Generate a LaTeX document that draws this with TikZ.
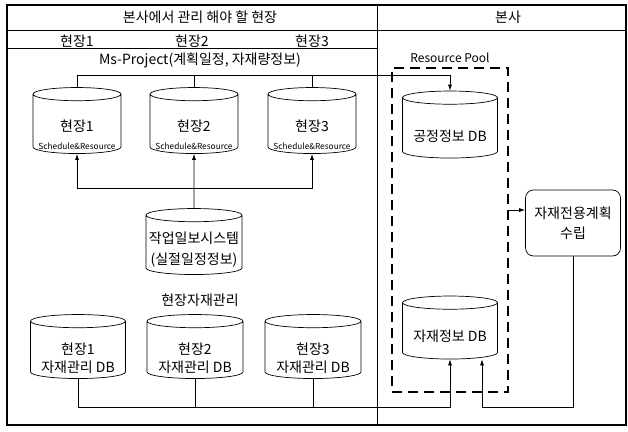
\documentclass[tikz,border=0pt]{standalone}
\usepackage{fontspec}
\setmainfont{Noto Sans CJK KR}
\usetikzlibrary{shapes.geometric,arrows.meta}

\begin{document}
\begin{tikzpicture}[x=1pt,y=-1pt,line width=0.7pt,>={Latex[length=6pt,width=4pt]},
    db/.style={cylinder,shape border rotate=90,aspect=0.33,draw,minimum width=88pt,inner sep=0pt,
      execute at begin node={\phantom{\rule{40pt}{30pt}}}},
    txt/.style={font=\fontsize{14}{18}\selectfont,align=center},
    tiny/.style={font=\fontsize{8.3}{10}\selectfont}]
\useasboundingbox (0,0) rectangle (628,431);

% frame and columns
\draw[line width=1.2pt] (7,5) rectangle (626,425);
\draw (7,30) -- (626,30);
\draw (7,48) -- (377,48);
\draw (377,5) -- (377,425);
\node (head) at (200,17) [txt] {본사에서 관리 해야 할 현장};
\node (hq) at (508,17) [txt] {본사};
\node (site1) at (77,41) [txt] {현장1};
\node (site2) at (192,41) [txt] {현장2};
\node (site3) at (312,41) [txt] {현장3};
\node (ms) at (200,60) [txt] {Ms-Project(계획일정, 자재량정보)};

% schedule DBs
\node (top1) at (77,124) [db,minimum height=66pt] {};
\node (top2) at (194,124) [db,minimum height=66pt] {};
\node (top3) at (312,124) [db,minimum height=66pt] {};
\node (t1) at (77,126) [txt] {현장1};
\node (t2) at (194,126) [txt] {현장2};
\node (t3) at (312,126) [txt] {현장3};
\node (s1) at (77,146) [tiny] {Schedule\&Resource};
\node (s2) at (194,146) [tiny] {Schedule\&Resource};
\node (s3) at (312,146) [tiny] {Schedule\&Resource};
\node (work) at (194,245) [db,minimum height=66pt,minimum width=96pt] {};
\node (worktxt) at (194,250) [txt,font=\fontsize{14}{21}\selectfont] {작업일보시스템\\(실절일정정보)};
\node (stock) at (200,300) [txt] {현장자재관리};

% site material DBs
\node (bot1) at (78,350) [db,minimum height=64pt,minimum width=95pt] {};
\node (bot2) at (195,350) [db,minimum height=64pt,minimum width=96pt] {};
\node (bot3) at (313,350) [db,minimum height=64pt,minimum width=96pt] {};
\node (b1) at (78,358) [txt] {현장1\\자재관리 DB};
\node (b2) at (195,358) [txt] {현장2\\자재관리 DB};
\node (b3) at (313,358) [txt] {현장3\\자재관리 DB};

% resource pool
\node (pool) at (450,230) [draw,line width=1.6pt,dash pattern=on 10pt off 6pt,minimum width=116pt,minimum height=324pt] {};
\node (pooltxt) at (450,58) [font=\fontsize{12}{14}\selectfont] {Resource Pool};
\node (proc) at (450,128) [db,minimum height=67pt,minimum width=95pt] {};
\node (proctxt) at (450,136) [txt] {공정정보 DB};
\node (mat) at (450,331) [db,minimum height=63pt,minimum width=95pt] {};
\node (mattxt) at (450,336) [txt] {자재정보 DB};
\node (plan) at (573,223) [draw,rounded corners=8pt,minimum width=95pt,minimum height=66pt,txt,font=\fontsize{14}{20}\selectfont] {자재전용계획\\수립};

% connectors
\coordinate (bus) at (77,75);
\coordinate (mid) at (194,188);
\coordinate (lowbus) at (78,407);
\draw[->] (top1.north) -- (top1.north |- bus) -| (proc.north);
\draw (top2.north) -- (top2.north |- bus);
\draw (top3.north) -- (top3.north |- bus);
\draw[->] (work.north) -- (top2.south);
\draw[->] (mid) -| (top1.south);
\draw[->] (mid) -| (top3.south);
\draw[->] (bot1.south) -- (bot1.south |- lowbus) -| (mat.south);
\draw (bot2.south) -- (bot2.south |- lowbus);
\draw (bot3.south) -- (bot3.south |- lowbus);
\draw[->] (plan.south) -- (plan.south |- lowbus) -| ([xshift=32pt]mat.south);
\draw[->] ([yshift=13pt]plan.west -| pool.east) -- ([yshift=13pt]plan.west);
\end{tikzpicture}
\end{document}
